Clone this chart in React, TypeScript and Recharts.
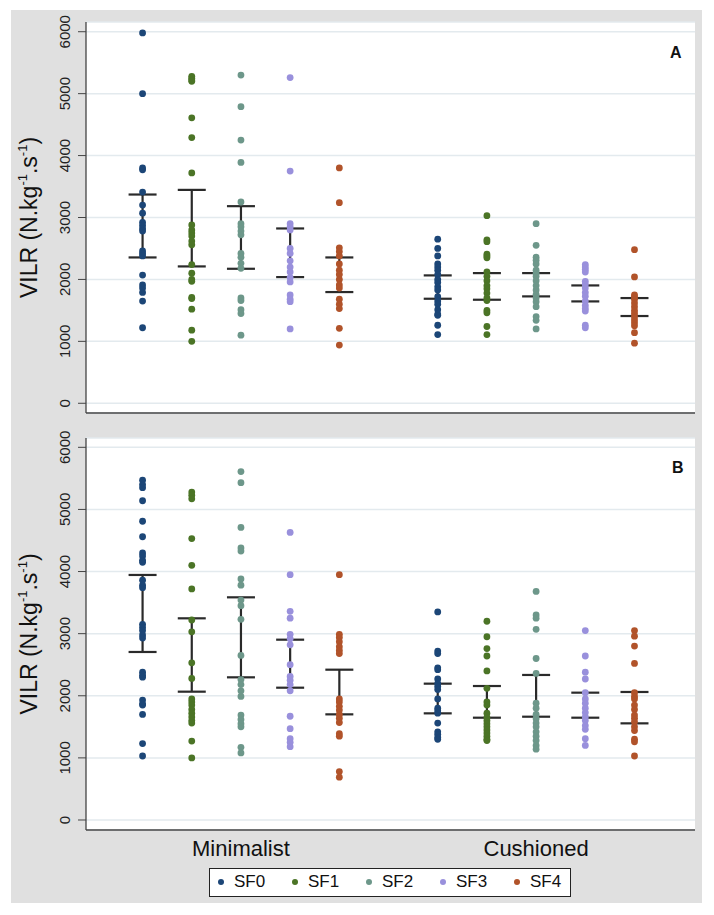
import { ScatterChart, Scatter, XAxis, YAxis, CartesianGrid, ErrorBar } from 'recharts'

const FONT = '"Liberation Sans", Arial, sans-serif'

const sfNames = ['SF0', 'SF1', 'SF2', 'SF3', 'SF4']
const sfColors = ['#1c4677', '#4b7426', '#6d978a', '#9990dc', '#b1532a']
const shoeNames = ['Minimalist', 'Cushioned']
const shoeTicks = [2, 8]
const yTicks = [0, 1000, 2000, 3000, 4000, 5000, 6000]

// panel A – one list per SF0..SF4
const aMinimalist = [
  [5980, 5000, 3800, 3770, 3410, 3200, 3070, 2920, 2870, 2820, 2780, 2460, 2420, 2380, 2070, 1910, 1860, 1790, 1650, 1220],
  [5280, 5250, 5220, 5200, 4610, 4290, 3720, 2880, 2800, 2750, 2700, 2620, 2560, 2240, 2100, 2000, 1970, 1710, 1690, 1520, 1180, 1000],
  [5300, 4790, 4250, 3890, 3250, 2900, 2850, 2780, 2720, 2420, 2360, 2260, 2180, 1700, 1660, 1510, 1450, 1100],
  [5260, 3750, 2900, 2850, 2800, 2500, 2420, 2300, 2200, 2120, 2030, 1960, 1750, 1680, 1640, 1200],
  [3800, 3240, 2510, 2450, 2380, 2250, 2150, 2080, 2000, 1910, 1860, 1680, 1600, 1530, 1210, 940],
]
const aCushioned = [
  [2650, 2500, 2380, 2250, 2200, 2150, 2080, 2000, 1950, 1880, 1830, 1720, 1650, 1600, 1510, 1440, 1420, 1260, 1110],
  [3030, 2640, 2610, 2410, 2380, 2350, 2120, 2050, 1980, 1900, 1850, 1780, 1700, 1660, 1500, 1460, 1240, 1110],
  [2900, 2550, 2360, 2310, 2250, 2150, 2100, 2050, 1980, 1900, 1830, 1760, 1700, 1640, 1560, 1400, 1340, 1200],
  [2240, 2200, 2160, 2120, 1970, 1920, 1860, 1790, 1730, 1650, 1580, 1530, 1490, 1260, 1220],
  [2480, 2040, 1750, 1720, 1680, 1620, 1560, 1500, 1450, 1400, 1350, 1300, 1250, 1140, 970],
]
const aMinimalistCI = [[2355, 3371], [2210, 3446], [2172, 3183], [2038, 2823], [1796, 2355]]
const aCushionedCI = [[1688, 2065], [1672, 2102], [1726, 2102], [1645, 1903], [1409, 1699]]

// panel B
const bMinimalist = [
  [5470, 5400, 5350, 5140, 4810, 4560, 4300, 4250, 4180, 4150, 3860, 3780, 3740, 3150, 3100, 3050, 2980, 2930, 2380, 2330, 2300, 1930, 1870, 1850, 1700, 1230, 1030],
  [5280, 5230, 5170, 4530, 4100, 3720, 3220, 3030, 2530, 2280, 1950, 1900, 1850, 1780, 1720, 1660, 1600, 1560, 1270, 1000],
  [5610, 5430, 4710, 4380, 4330, 3880, 3780, 3540, 3450, 3230, 2650, 2260, 2180, 2080, 1990, 1690, 1620, 1550, 1500, 1170, 1080],
  [4630, 3950, 3360, 3250, 2990, 2920, 2820, 2500, 2310, 2250, 2180, 2080, 1670, 1470, 1310, 1250, 1180],
  [3950, 2990, 2940, 2870, 2790, 2730, 2680, 1950, 1900, 1830, 1770, 1700, 1640, 1570, 1390, 1350, 780, 690],
]
const bCushioned = [
  [3350, 2720, 2680, 2450, 2420, 2270, 2200, 2150, 2100, 1950, 1800, 1760, 1720, 1560, 1420, 1380, 1330, 1300],
  [3200, 2950, 2760, 2640, 2400, 2120, 1900, 1850, 1720, 1650, 1600, 1550, 1500, 1450, 1400, 1350, 1300, 1280],
  [3680, 3300, 3250, 3070, 2600, 2360, 1880, 1800, 1700, 1630, 1560, 1500, 1420, 1350, 1280, 1200, 1140],
  [3050, 2640, 2380, 2270, 2050, 1950, 1880, 1800, 1730, 1660, 1600, 1520, 1460, 1310, 1200],
  [3050, 2960, 2800, 2520, 2050, 1990, 1950, 1850, 1780, 1690, 1640, 1580, 1500, 1440, 1300, 1260, 1030],
]
const bMinimalistCI = [[2705, 3945], [2066, 3247], [2297, 3585], [2130, 2903], [1701, 2420]]
const bCushionedCI = [[1717, 2195], [1647, 2157], [1663, 2335], [1647, 2050], [1556, 2061]]

const axisColor = '#444'
const gridColor = '#e3eaee'

const YTick = ({ y, payload }: any) => (
  <text transform={`translate(70,${y}) rotate(-90)`} textAnchor="middle"
    fontSize={15} fill="#222" fontFamily={FONT}>
    {payload.value}
  </text>
)

const XTick = ({ x, payload }: any) => (
  <text x={x} y={436} textAnchor="middle" fontSize={22} fill="#111" fontFamily={FONT}>
    {shoeNames[shoeTicks.indexOf(payload.value)]}
  </text>
)

const YLabel = ({ viewBox }: any) => {
  const cy = viewBox.y + viewBox.height / 2
  return (
    <text transform={`translate(37,${cy}) rotate(-90)`} textAnchor="middle"
      fontSize={23} fill="#111" fontFamily={FONT}>
      VILR (N.kg<tspan fontSize={13} dy={-10}>-1</tspan>
      <tspan dy={10}>.s</tspan>
      <tspan fontSize={13} dy={-10}>-1</tspan>
      <tspan dy={10}>)</tspan>
    </text>
  )
}

interface PanelProps {
  top: number; height: number; margin: any; yDomain: number[]; showX: boolean
  letter: string; letterY: number
  min: number[][]; cush: number[][]; minCI: number[][]; cushCI: number[][]
}

function Panel({ top, height, margin, yDomain, showX, min, cush, minCI, cushCI }: PanelProps) {
  const series = sfNames.map((_, k) => [
    ...min[k].map(v => ({ x: k, y: v })),
    ...cush[k].map(v => ({ x: k + 6, y: v })),
  ])
  const bars = [
    ...minCI.map(([lo, hi], k) => ({ x: k, y: (lo + hi) / 2, err: (hi - lo) / 2 })),
    ...cushCI.map(([lo, hi], k) => ({ x: k + 6, y: (lo + hi) / 2, err: (hi - lo) / 2 })),
  ]

  return (
    <div style={{ position: 'absolute', left: 0, top }}>
      <ScatterChart width={714} height={height} margin={margin}>
        <CartesianGrid vertical={false} stroke={gridColor} strokeWidth={1.5} fill="#fff" />
        <XAxis type="number" dataKey="x" domain={[-1.15, 11.23]} allowDataOverflow
          ticks={shoeTicks} tick={showX ? XTick : false} tickLine={false}
          height={showX ? 30 : 1} axisLine={{ stroke: axisColor, strokeWidth: 1.3 }} />
        <YAxis type="number" dataKey="y" domain={yDomain} allowDataOverflow ticks={yTicks}
          interval={0} width={40} tick={YTick} tickSize={8}
          tickLine={{ stroke: axisColor }} axisLine={{ stroke: axisColor, strokeWidth: 1.3 }}
          label={{ content: YLabel }} />
        {series.map((pts, k) => (
          <Scatter key={sfNames[k]} name={sfNames[k]} data={pts} isAnimationActive={false}
            shape={(p: any) => <circle cx={p.cx} cy={p.cy} r={3.4} fill={sfColors[k]} />} />
        ))}
        <Scatter data={bars} isAnimationActive={false} shape={() => <g />}>
          <ErrorBar dataKey="err" direction="y" width={14} stroke="#2a2a2a" strokeWidth={2.2}
            isAnimationActive={false} />
        </Scatter>
      </ScatterChart>
    </div>
  )
}

export default function App() {
  return (
    <div style={{ position: 'absolute', left: 0, top: 0, width: 714, height: 915, background: '#fff', fontFamily: FONT }}>
      <div style={{ position: 'absolute', left: 11, top: 10, width: 691, height: 893, background: '#e0e0e0' }} />
      <Panel top={0} height={420} margin={{ top: 22, right: 19, bottom: 6, left: 46 }}
        yDomain={[-157, 6157]} showX={false} letter="A" letterY={53}
        min={aMinimalist} cush={aCushioned} minCI={aMinimalistCI} cushCI={aCushionedCI} />
      <Panel top={420} height={460} margin={{ top: 18, right: 19, bottom: 20, left: 46 }}
        yDomain={[-161, 6150]} showX={true} letter="B" letterY={468}
        min={bMinimalist} cush={bCushioned} minCI={bMinimalistCI} cushCI={bCushionedCI} />
      <div style={{ position: 'absolute', left: 670, top: 44, fontSize: 16, fontWeight: 'bold', color: '#111' }}>A</div>
      <div style={{ position: 'absolute', left: 672, top: 459, fontSize: 16, fontWeight: 'bold', color: '#111' }}>B</div>
      <div style={{ position: 'absolute', left: 209, top: 868, width: 360, height: 27, background: '#fff', border: '1px solid #222' }}>
        {sfNames.map((n, k) => (
          <div key={n} style={{ position: 'absolute', left: 8 + k * 74, top: 3, display: 'flex', alignItems: 'center', fontSize: 17, color: '#111' }}>
            <span style={{ width: 6, height: 6, borderRadius: 3, background: sfColors[k], marginRight: 10 }} />
            {n}
          </div>
        ))}
      </div>
    </div>
  )
}
